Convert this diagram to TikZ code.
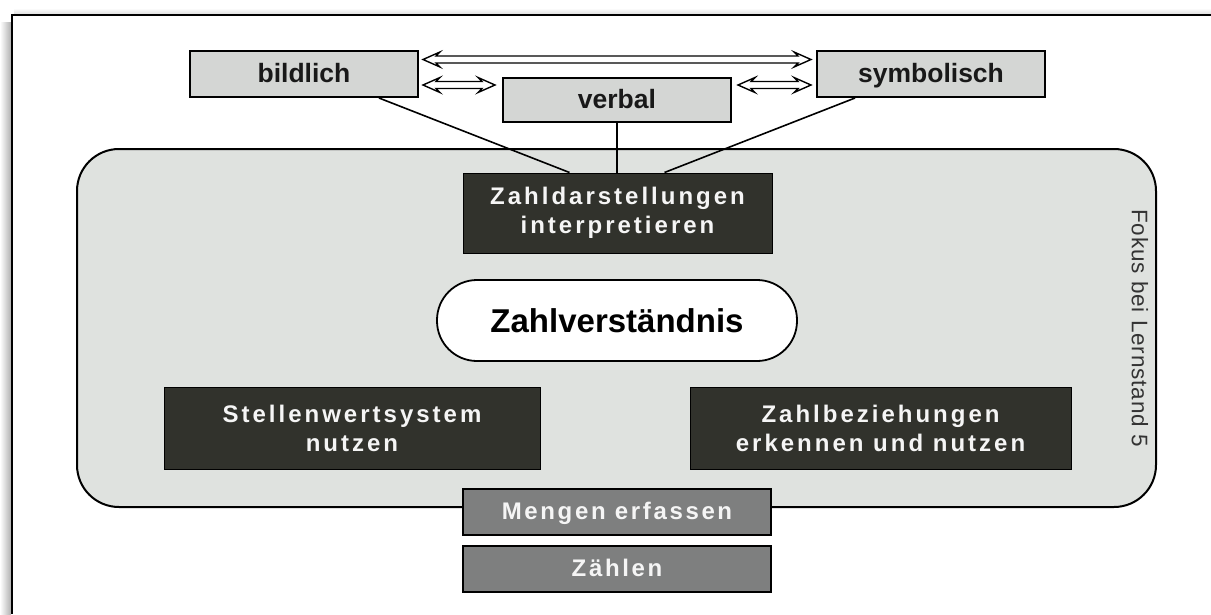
\documentclass[tikz,border=0pt]{standalone}
\usepackage{fontspec}
\setmainfont{Liberation Sans}
\newfontfamily\spacedA{Liberation Sans}[LetterSpace=12.5]
\newfontfamily\spacedB{Liberation Sans}[LetterSpace=11]
\newfontfamily\spacedC{Liberation Sans}[LetterSpace=4]
\usetikzlibrary{calc}
\definecolor{boxgray}{HTML}{D4D6D4}
\definecolor{panelgray}{HTML}{DFE2DF}
\definecolor{darkbox}{HTML}{31322C}
\definecolor{midgray}{HTML}{7E7F7F}
\definecolor{wtext}{HTML}{F5F5F5}
\newcommand\hollowarrow[3]{%
  \draw[line width=1.4pt, fill=white, line join=miter]
    (#1,#3) -- ++(17,-7.5) -- ++(-4,4) -- (#2-13,#3-3.5) -- (#2-17,#3-7.5) -- (#2,#3)
    -- (#2-17,#3+7.5) -- (#2-13,#3+3.5) -- (#1+13,#3+3.5) -- (#1+17,#3+7.5) -- cycle;}
\begin{document}
\begin{tikzpicture}[x=1pt,y=-1pt,
  graybox/.style={draw=black, line width=2pt, fill=boxgray, inner sep=0pt,
    minimum width=228pt, minimum height=46pt, text=black!90,
    text height=21pt, text depth=4pt,
    font=\fontsize{26.5}{30}\selectfont\bfseries},
  darkbox/.style={draw=black, line width=1pt, fill=darkbox, inner sep=0pt,
    text=wtext, align=center,
    font=\fontsize{24}{29}\selectfont\spacedA\bfseries},
  lowbox/.style={draw=black, line width=2pt, fill=midgray, inner sep=0pt,
    minimum width=308pt, minimum height=46pt, text=wtext,
    text height=18pt, text depth=4pt,
    font=\fontsize{24}{28}\selectfont\spacedB\bfseries},
  link/.style={line width=1.6pt, draw=black}]
\useasboundingbox (0,0) rectangle (1211,614);
\fill[white] (0,0) rectangle (1211,614);
% frame with shadow
\shade[left color=white, right color=black!30] (0,22) rectangle (10.8,614);
\shade[top color=white, bottom color=black!12] (14,8) rectangle (1211,13.8);
\draw[line width=2.6pt] (12,614) -- (12,15) -- (1211,15);
% panel
\node[draw=black, line width=2pt, fill=panelgray, rounded corners=42pt,
  minimum width=1079pt, minimum height=358pt, inner sep=0pt] (panel) at (616.5,328) {};
% top boxes
\node[graybox] (bild) at (304,74) {bildlich};
\node[graybox, minimum height=44pt] (verbal) at (617,100) {verbal};
\node[graybox] (sym) at (931,74) {symbolisch};
% hollow double arrows
\hollowarrow{423}{811}{59.5}
\hollowarrow{423}{495}{85}
\hollowarrow{738}{811}{85}
% central boxes
\node[darkbox, minimum width=309pt, minimum height=80pt] (zd) at (617.5,213)
  {Zahldarstellungen\\interpretieren};
\draw[link] ($(bild.south east)+(-40,0)$) -- ($(zd.north)+(-48,0)$);
\draw[link] (verbal.south) -- (verbal.south |- zd.north);
\draw[link] ($(sym.south west)+(39,0)$) -- ($(zd.north)+(47,0)$);
\node[draw=black, line width=1.8pt, fill=white, rounded corners=40pt,
  minimum width=360pt, minimum height=81pt, inner sep=0pt,
  font=\fontsize{33}{38}\selectfont\bfseries] (zv) at (617,320.5) {Zahlverständnis};
\node[darkbox, minimum width=376pt, minimum height=82pt] (sw) at (352,428)
  {Stellenwertsystem\\nutzen};
\node[darkbox, minimum width=381pt, minimum height=82pt] (zb) at (880.5,428)
  {Zahlbeziehungen\\erkennen und nutzen};
\node[lowbox] (me) at (617,512) {Mengen erfassen};
\node[lowbox] (za) at (617,569) {Zählen};
\node[rotate=-90, text=black!80, inner sep=0pt,
  font=\fontsize{22.5}{26}\selectfont\spacedC] (fokus) at (1140,328) {Fokus bei Lernstand 5};
\end{tikzpicture}
\end{document}
